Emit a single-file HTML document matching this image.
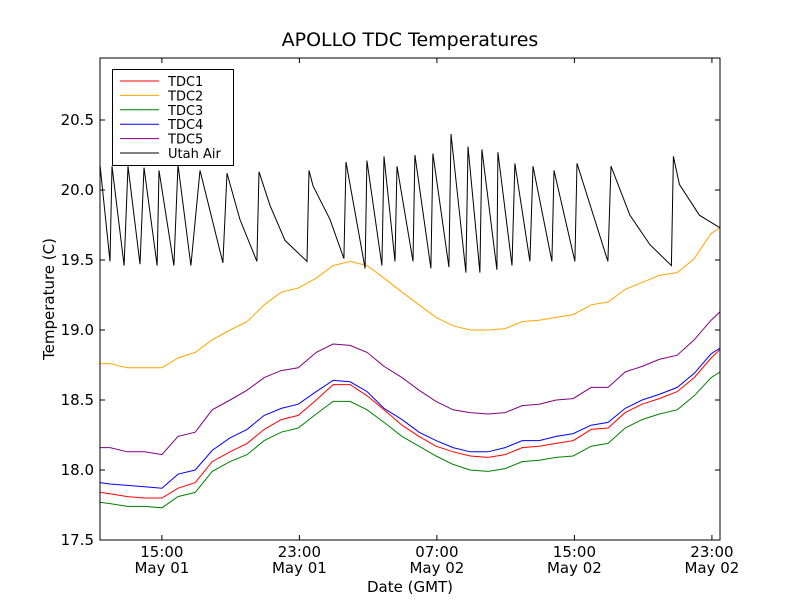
<!DOCTYPE html>
<html><head><meta charset="utf-8"><style>
body{margin:0;background:#fff;}
svg text{font-family:"DejaVu Sans","Liberation Sans",sans-serif;}
</style></head><body>
<svg id="chart" width="800" height="600" xmlns="http://www.w3.org/2000/svg">
<rect width="800" height="600" fill="#fff"/>
<text x="410" y="46" font-size="19" text-anchor="middle">APOLLO TDC Temperatures</text>
<text x="410" y="592" font-size="15" text-anchor="middle">Date (GMT)</text>
<text x="54" y="299" font-size="15" text-anchor="middle" transform="rotate(-90 54 299)">Temperature (C)</text>
<g id="series"></g>
<g id="axes"></g>
<g id="legend"></g>
</svg>
<script>
const tdcTimes=[11.4,11.98,13.0,14.0,15.0,15.94,16.94,17.93,18.97,19.96,20.95,21.94,22.93,23.98,24.96,25.95,26.94,27.93,28.97,29.96,30.95,31.94,32.93,33.98,34.97,35.96,36.95,37.94,38.93,39.97,40.96,41.95,42.94,43.93,44.98,45.97,46.95,47.47];
const tdc2=[18.76,18.76,18.73,18.73,18.73,18.8,18.84,18.93,19.0,19.06,19.18,19.27,19.3,19.37,19.46,19.49,19.46,19.37,19.27,19.18,19.09,19.03,19.0,19.0,19.01,19.06,19.07,19.09,19.11,19.18,19.2,19.29,19.34,19.39,19.41,19.51,19.69,19.73];
const tdc5=[18.16,18.16,18.13,18.13,18.11,18.24,18.27,18.43,18.5,18.57,18.66,18.71,18.73,18.84,18.9,18.89,18.84,18.74,18.66,18.57,18.49,18.43,18.41,18.4,18.41,18.46,18.47,18.5,18.51,18.59,18.59,18.7,18.74,18.79,18.82,18.93,19.07,19.13];
const tdc4=[17.91,17.9,17.89,17.88,17.87,17.97,18.0,18.14,18.23,18.29,18.39,18.44,18.47,18.56,18.64,18.63,18.56,18.44,18.36,18.27,18.21,18.16,18.13,18.13,18.16,18.21,18.21,18.24,18.26,18.32,18.34,18.44,18.5,18.54,18.59,18.69,18.83,18.87];
const tdc1=[17.84,17.83,17.81,17.8,17.8,17.87,17.91,18.06,18.13,18.19,18.29,18.36,18.39,18.5,18.61,18.61,18.53,18.43,18.32,18.24,18.17,18.13,18.1,18.09,18.11,18.16,18.17,18.19,18.21,18.29,18.3,18.41,18.47,18.51,18.56,18.66,18.8,18.86];
const tdc3=[17.77,17.76,17.74,17.74,17.73,17.81,17.84,17.99,18.06,18.11,18.21,18.27,18.3,18.4,18.49,18.49,18.43,18.34,18.24,18.17,18.1,18.04,18.0,17.99,18.01,18.06,18.07,18.09,18.1,18.17,18.19,18.3,18.36,18.4,18.43,18.53,18.66,18.7];
const airTimes=[11.4,11.98,12.10,12.80,13.03,13.73,13.96,14.72,14.83,15.70,15.94,16.69,17.22,18.55,18.79,19.54,20.53,20.65,21.29,22.16,23.44,23.56,23.79,24.78,25.59,25.71,26.82,26.93,27.80,27.92,28.56,28.68,29.61,29.72,30.65,30.77,31.70,31.82,32.69,32.81,33.50,33.62,34.49,34.55,35.37,35.54,36.41,36.59,37.69,37.81,39.03,39.15,40.95,41.13,42.23,43.39,44.64,44.76,45.11,46.27,47.47];
const airVals=[20.18,19.49,20.17,19.46,20.17,19.47,20.16,19.46,20.14,19.46,20.18,19.46,20.14,19.48,20.12,19.79,19.49,20.13,19.89,19.64,19.49,20.14,20.03,19.79,19.51,20.2,19.44,20.21,19.46,20.24,19.49,20.17,19.49,20.25,19.44,20.26,19.45,20.4,19.41,20.31,19.41,20.29,19.43,20.27,19.46,20.19,19.49,20.17,19.49,20.14,19.49,20.19,19.49,20.17,19.82,19.61,19.46,20.24,20.04,19.82,19.73];
const yTicks=[17.5,18.0,18.5,19.0,19.5,20.0,20.5];
const yTickLabels=["17.5","18.0","18.5","19.0","19.5","20.0","20.5"];
const xTicks=[15,23,31,39,47];
const xTickTimes=["15:00","23:00","07:00","15:00","23:00"];
const xTickDates=["May 01","May 01","May 02","May 02","May 02"];
const seriesNames=["TDC1","TDC2","TDC3","TDC4","TDC5","Utah Air"];
const seriesColors=["#ff0000","#ffa500","#008000","#0000ff","#800080","#000000"];

const L=100,R=720,T=58,B=540,XMIN=11.4,XMAX=47.47,YMIN=17.5,YMAX=20.943;
const xs=t=>L+(t-XMIN)/(XMAX-XMIN)*(R-L);
const ys=v=>B-(v-YMIN)/(YMAX-YMIN)*(B-T);
const NS="http://www.w3.org/2000/svg";
function mk(tag,parent){const e=document.createElementNS(NS,tag);parent.appendChild(e);return e;}
const sg=document.getElementById('series');
const cp=mk('clipPath',sg);cp.setAttribute('id','clip');
const cr=mk('rect',cp);cr.setAttribute('x',L);cr.setAttribute('y',T);cr.setAttribute('width',R-L);cr.setAttribute('height',B-T);
const data=[[tdcTimes,tdc1],[tdcTimes,tdc2],[tdcTimes,tdc3],[tdcTimes,tdc4],[tdcTimes,tdc5],[airTimes,airVals]];
data.forEach((d,i)=>{
 const p=mk('path',sg);
 
 
 p.setAttribute('d',d[0].map((t,j)=>(j?'L':'M')+xs(t).toFixed(1)+' '+ys(d[1][j]).toFixed(1)).join(''));
 p.setAttribute('fill','none');p.setAttribute('stroke',seriesColors[i]);p.setAttribute('stroke-width','1');
 p.setAttribute('clip-path','url(#clip)');
});
const ax=document.getElementById('axes');
const fr=mk('rect',ax);


fr.setAttribute('x',L);fr.setAttribute('y',T);fr.setAttribute('width',R-L);fr.setAttribute('height',B-T);fr.setAttribute('fill','none');fr.setAttribute('stroke','#000');
yTicks.forEach((v,i)=>{
 const y=ys(v);
 const tk=mk('path',ax);
 
 
 tk.setAttribute('d',`M${L} ${y}h5M${R} ${y}h-5`);tk.setAttribute('stroke','#000');
 const tx=mk('text',ax);
 
 
 tx.setAttribute('x',L-6);tx.setAttribute('y',y+5);tx.setAttribute('font-size','15');tx.setAttribute('text-anchor','end');tx.textContent=yTickLabels[i];
});
xTicks.forEach((t,i)=>{
 const x=xs(t);
 const tk=mk('path',ax);
 
 
 tk.setAttribute('d',`M${x} ${B}v-5M${x} ${T}v5`);tk.setAttribute('stroke','#000');
 const t1=mk('text',ax);
 
 
 t1.setAttribute('x',x);t1.setAttribute('y',B+17);t1.setAttribute('font-size','15');t1.setAttribute('text-anchor','middle');t1.textContent=xTickTimes[i];
 const t2=mk('text',ax);
 
 
 t2.setAttribute('x',x);t2.setAttribute('y',B+33);t2.setAttribute('font-size','15');t2.setAttribute('text-anchor','middle');t2.textContent=xTickDates[i];
});
const lg=document.getElementById('legend');
const lb=mk('rect',lg);


lb.setAttribute('x',112.5);lb.setAttribute('y',69.5);lb.setAttribute('width',121);lb.setAttribute('height',96);lb.setAttribute('fill','#fff');lb.setAttribute('stroke','#000');
seriesNames.forEach((n,i)=>{
 const y=81+i*14.4;
 const ln=mk('line',lg);
 
 
 ln.setAttribute('x1',120);ln.setAttribute('x2',159);ln.setAttribute('y1',y);ln.setAttribute('y2',y);ln.setAttribute('stroke',seriesColors[i]);
 const tx=mk('text',lg);
 
 
 tx.setAttribute('x',168);tx.setAttribute('y',y+5);tx.setAttribute('font-size','13');tx.textContent=n;
});
</script>
</body></html>
